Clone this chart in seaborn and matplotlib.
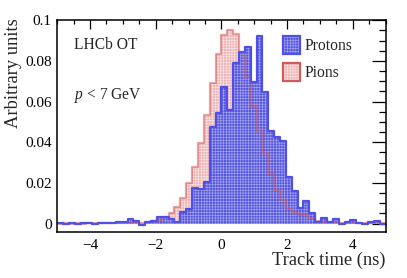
import matplotlib
matplotlib.use("Agg")
import matplotlib.pyplot as plt
import seaborn as sns
import numpy as np
import pandas as pd
from matplotlib.patches import Patch
from matplotlib.ticker import MultipleLocator, FuncFormatter

# Binning of the track-time histograms (ns)
t_min, t_max, n_bins = -5.0, 5.0, 56

# Normalised bin contents (56 bins, left to right)
protons = [
    0.0003, 0.0, 0.0002, 0.0, 0.0003, 0.0002, 0.0, 0.0002,
    0.0004, 0.0004, 0.0006, 0.0008, 0.0021, 0.0012, -0.0006, 0.0009,
    0.0012, 0.0032, 0.0032, 0.0021, 0.0010, 0.0055, 0.0072, 0.0174,
    0.0169, 0.0206, 0.0474, 0.0545, 0.0673, 0.0559, 0.0788, 0.0846,
    0.0867, 0.0698, 0.0923, 0.0649, 0.0455, 0.0424, 0.0408, 0.0228,
    0.0162, 0.0078, 0.0113, 0.0050, 0.0010, 0.0026, 0.0010, 0.0021,
    -0.0004, 0.0006, 0.0018, 0.0001, 0.0, 0.0006, 0.0014, 0.0,
]
pions = [
    0.0, 0.0002, 0.0, 0.0003, 0.0, 0.0002, 0.0004, 0.0003,
    0.0005, 0.0002, 0.0004, 0.0003, 0.0005, 0.0006, 0.0004, 0.0010,
    0.0012, 0.0020, 0.0034, 0.0054, 0.0083, 0.0124, 0.0198, 0.0280,
    0.0398, 0.0534, 0.0690, 0.0834, 0.0928, 0.0952, 0.0933, 0.0838,
    0.0721, 0.0574, 0.0457, 0.0346, 0.0244, 0.0165, 0.0116, 0.0070,
    0.0054, 0.0042, 0.0040, 0.0025, 0.0015, 0.0010, 0.0008, 0.0006,
    0.0004, 0.0003, 0.0005, 0.0002, 0.0003, 0.0002, 0.0008, 0.0005,
]

edges = np.linspace(t_min, t_max, n_bins + 1)
centers = 0.5 * (edges[:-1] + edges[1:])
df_p = pd.DataFrame({"t": centers, "w": protons})
df_pi = pd.DataFrame({"t": centers, "w": pions})

# Colours
blue_fill, blue_hatch, blue_line = "#5656dc", "#a4a4f2", "#5050e6"
pink_fill, pink_hatch, pink_line = "#eeb4b4", "#fbe6e6", "#d35a5a"

sns.set_style("white")
plt.rcParams["font.family"] = ["Liberation Serif", "DejaVu Serif"]
plt.rcParams["mathtext.fontset"] = "custom"
plt.rcParams["mathtext.rm"] = "Liberation Serif"
plt.rcParams["mathtext.it"] = "Liberation Serif:italic"
plt.rcParams["hatch.linewidth"] = 0.45
plt.rcParams["axes.unicode_minus"] = True

fig = plt.figure(figsize=(4.07, 2.78), dpi=100)
ax = fig.add_axes([0.1404, 0.1665, 0.807, 0.7605])

hatch = "+" * 6
hist_kw = dict(x="t", weights="w", bins=n_bins, binrange=(t_min, t_max),
               element="step", ax=ax)

# Pion fill, proton fill on top
sns.histplot(data=df_pi, fill=True, facecolor=pink_fill, edgecolor=pink_hatch,
             linewidth=0, hatch=hatch, **hist_kw)
sns.histplot(data=df_p, fill=True, facecolor=blue_fill, edgecolor=blue_hatch,
             linewidth=0, hatch=hatch, **hist_kw)

# Outlines
sns.histplot(data=df_pi, fill=False, color=pink_line, linewidth=1.6,
             alpha=0.55, **hist_kw)
sns.histplot(data=df_p, fill=False, color=blue_line, linewidth=1.6, **hist_kw)

# Axes
ax.set_xlim(t_min, t_max)
ax.set_ylim(-0.004, 0.1)
ax.xaxis.set_major_locator(MultipleLocator(2))
ax.xaxis.set_minor_locator(MultipleLocator(0.5))
ax.yaxis.set_major_locator(MultipleLocator(0.02))
ax.yaxis.set_minor_locator(MultipleLocator(0.005))
ax.yaxis.set_major_formatter(FuncFormatter(lambda v, p: "%g" % round(v, 4)))

ax.tick_params(which="both", direction="in", top=True, right=True,
               labelsize=11, width=0.9, colors="black")
ax.tick_params(axis="x", which="major", length=6.5, pad=5)
ax.tick_params(axis="x", which="minor", length=3.2)
ax.tick_params(axis="y", which="major", length=10, pad=4)
ax.tick_params(axis="y", which="minor", length=5)
for sp in ax.spines.values():
    sp.set_linewidth(1.1)
    sp.set_color("black")

ax.set_xlabel("Track time (ns)", fontsize=13.3, loc="right")
ax.xaxis.set_label_coords(1.0, -0.095)
ax.set_ylabel("Arbitrary units", fontsize=13.3, loc="top")
ax.yaxis.set_label_coords(-0.107, 1.01)

# Annotations
ax.text(0.05, 0.865, "LHCb OT", transform=ax.transAxes, fontsize=11.2,
        va="baseline")
ax.text(0.05, 0.63, "$p$ < 7 GeV", transform=ax.transAxes, fontsize=11.2,
        va="baseline")

# Legend
h_p = (Patch(facecolor=blue_fill, edgecolor=blue_hatch, hatch=hatch, linewidth=0),
       Patch(facecolor="none", edgecolor=blue_line, linewidth=1.6))
h_pi = (Patch(facecolor=pink_fill, edgecolor=pink_hatch, hatch=hatch, linewidth=0),
        Patch(facecolor="none", edgecolor=pink_line, linewidth=1.6))
ax.legend([h_p, h_pi], ["Protons", "Pions"], loc="upper left",
          bbox_to_anchor=(0.6885, 0.925), frameon=False, fontsize=11.2,
          handlelength=1.1, handleheight=1.4, handletextpad=0.25,
          labelspacing=0.55, borderpad=0, borderaxespad=0)

fig.savefig("out.png", dpi=100)
